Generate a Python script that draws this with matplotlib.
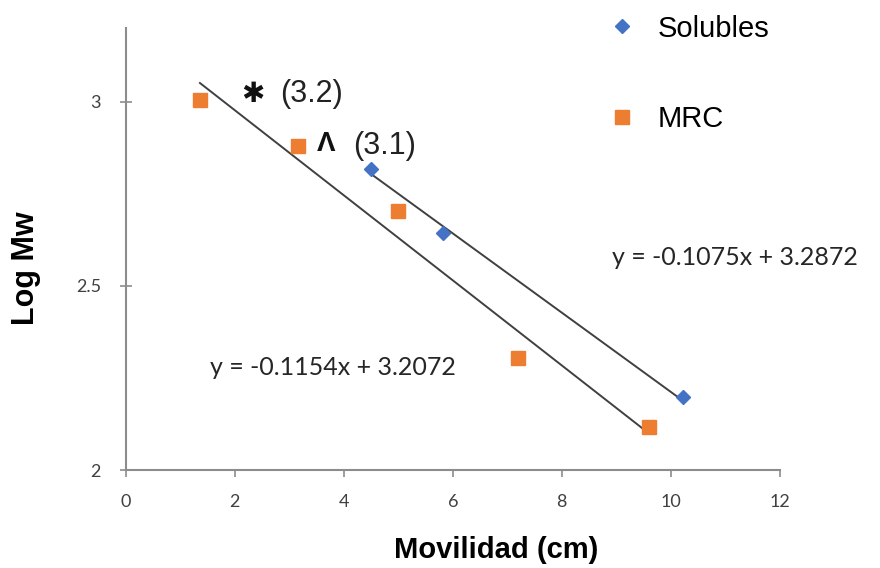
import numpy as np
import matplotlib.pyplot as plt
from matplotlib.lines import Line2D

# Data
sol_x = [4.5, 5.83, 10.22]
sol_y = [2.816, 2.643, 2.197]
mrc_x = [1.36, 3.16, 4.99, 7.19, 9.6]
mrc_y = [3.005, 2.878, 2.703, 2.305, 2.116]

# Trendline coefficients as printed on the chart
sol_fit = [-0.1075, 3.2872]
mrc_fit = [-0.1154, 3.2072]

blue = '#4472C4'
orange = '#ED7D31'
line_col = '#404040'
axis_col = '#8c8c8c'

fig = plt.figure(figsize=(8.8, 5.68), dpi=100)
ax = fig.add_axes([0.143, 0.1725, 0.743, 0.7785])

# Trendlines over each series' x range
for xs, fit in [(sol_x, sol_fit), (mrc_x, mrc_fit)]:
    xl = np.array([min(xs), max(xs)])
    ax.plot(xl, fit[0] * xl + fit[1], color=line_col, lw=1.4, zorder=2)

ax.plot(sol_x, sol_y, 'D', color=blue, markersize=7, zorder=3, label='Solubles')
ax.plot(mrc_x, mrc_y, 's', color=orange, markersize=10.5, zorder=3, label='MRC')

ax.set_xlim(0, 12)
ax.set_ylim(2, 3.2)
ax.set_xticks([0, 2, 4, 6, 8, 10, 12])
ax.set_yticks([2, 2.5, 3])
ax.set_yticklabels(['2', '2.5', '3'])

for s in ['top', 'right']:
    ax.spines[s].set_visible(False)
for s in ['left', 'bottom']:
    ax.spines[s].set_color(axis_col)
    ax.spines[s].set_linewidth(1.5)
ax.tick_params(axis='x', direction='out', length=5, color=axis_col, width=1.2,
               labelsize=13, labelcolor='#404040', pad=12)
ax.tick_params(axis='y', direction='inout', length=8, color=axis_col, width=1.2,
               labelsize=13, labelcolor='#404040', pad=14)
for lab in ax.get_xticklabels() + ax.get_yticklabels():
    lab.set_fontfamily('Lato')

ax.set_xlabel('Movilidad (cm)', fontsize=21, fontweight='bold',
              fontfamily='Liberation Sans')
ax.xaxis.set_label_coords(0.567, -0.15)
ax.set_ylabel('Log Mw', fontsize=22, fontweight='bold',
              fontfamily='Liberation Sans')
ax.yaxis.set_label_coords(-0.13, 0.457)

# Equations
ax.text(8.92, 2.577, 'y = -0.1075x + 3.2872', fontsize=18, fontfamily='Lato',
        color='#262626', va='center')
ax.text(1.55, 2.278, 'y = -0.1154x + 3.2072', fontsize=18, fontfamily='Lato',
        color='#262626', va='center')

# Annotations
ax.text(2.12, 3.02, '\u2731', fontsize=20, fontfamily='DejaVu Sans',
        color='#111111', va='center')
ax.text(2.83, 3.02, '(3.2)', fontsize=22, fontfamily='Liberation Sans',
        color='#222222', va='center')
ax.text(3.5, 2.885, '\u039b', fontsize=20, fontweight='bold',
        fontfamily='Liberation Sans', color='#111111', va='center')
ax.text(4.17, 2.88, '(3.1)', fontsize=22, fontfamily='Liberation Sans',
        color='#222222', va='center')

handles = [Line2D([], [], marker='D', color=blue, ls='none', markersize=7),
           Line2D([], [], marker='s', color=orange, ls='none', markersize=10.5)]
fig.legend(handles, ['Solubles', 'MRC'], loc='upper left',
           bbox_to_anchor=(0.674, 1.0), frameon=False, labelspacing=2.15,
           handlelength=1.0, handletextpad=0.7, borderpad=0.0,
           prop={'family': 'Liberation Sans', 'size': 21})

fig.savefig('out.png', dpi=100)
